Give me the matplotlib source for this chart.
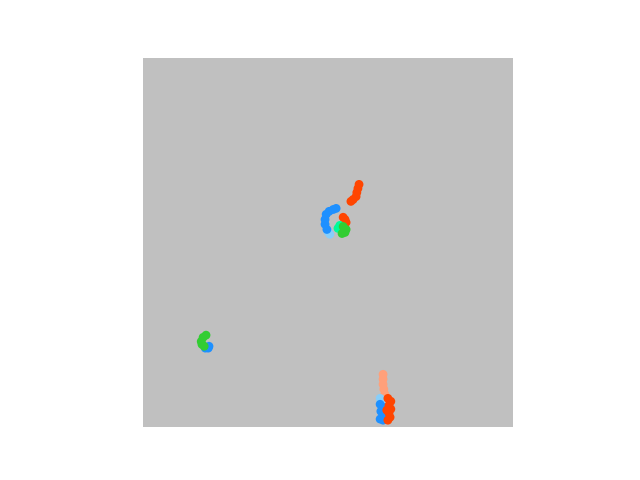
import matplotlib
matplotlib.use("Agg")
import matplotlib.pyplot as plt

# track positions (x, y) in arena units, 0..100
orange_top_x = [58.4, 58.1, 57.8, 57.6, 56.8, 56.2]
orange_top_y = [65.7, 64.6, 63.5, 62.4, 61.6, 61.1]

blue_mid_x = [49.7, 49.2, 49.2, 49.5, 50.3, 51.4, 52.2]
blue_mid_y = [53.5, 54.9, 56.2, 57.6, 58.4, 58.9, 59.2]
lightblue_mid_x = [50.5, 50.0]
lightblue_mid_y = [52.2, 52.9]

red_mid_x = [54.1, 54.6, 54.9]
red_mid_y = [56.8, 56.2, 55.4]

springgreen_mid_x = [52.7, 53.2]
springgreen_mid_y = [53.8, 54.6]
green_mid_x = [54.1, 54.9, 54.6, 53.8]
green_mid_y = [54.3, 53.5, 52.7, 52.4]

green_left_x = [17.0, 16.2, 15.7, 15.9, 16.5]
green_left_y = [24.9, 24.3, 23.2, 22.4, 21.9]
blue_left_x = [16.8, 17.6, 17.8]
blue_left_y = [21.4, 21.4, 21.9]

salmon_bot_x = [64.9, 64.9, 64.9, 65.1, 65.4]
salmon_bot_y = [14.3, 13.0, 11.6, 10.3, 8.9]
red_bot_x = [66.2, 67.0, 66.5, 67.0, 65.9, 66.5, 66.8, 66.2]
red_bot_y = [7.8, 7.0, 5.9, 4.9, 4.6, 3.8, 2.7, 1.9]
lightblue_bot_x = [64.1, 64.3]
lightblue_bot_y = [7.8, 7.3]
blue_bot_x = [64.1, 64.9, 64.3, 64.9, 64.1, 64.9]
blue_bot_y = [6.2, 5.4, 4.3, 3.2, 2.2, 1.9]

fig = plt.figure(figsize=(6.4, 4.8), dpi=100)
ax = fig.add_subplot(111)
ax.set_facecolor("silver")

tracks = [
    (salmon_bot_x, salmon_bot_y, "lightsalmon"),
    (lightblue_bot_x, lightblue_bot_y, "lightskyblue"),
    (blue_bot_x, blue_bot_y, "dodgerblue"),
    (red_bot_x, red_bot_y, "orangered"),
    (lightblue_mid_x, lightblue_mid_y, "lightskyblue"),
    (blue_mid_x, blue_mid_y, "dodgerblue"),
    (red_mid_x, red_mid_y, "orangered"),
    (springgreen_mid_x, springgreen_mid_y, "mediumspringgreen"),
    (green_mid_x, green_mid_y, "limegreen"),
    (orange_top_x, orange_top_y, "orangered"),
    (blue_left_x, blue_left_y, "dodgerblue"),
    (green_left_x, green_left_y, "limegreen"),
]
for xs, ys, c in tracks:
    ax.scatter(xs, ys, s=40, color=c, edgecolors="none")

ax.set_xlim(0, 100)
ax.set_ylim(0, 100)
ax.set_aspect("equal")
ax.set_xticks([])
ax.set_yticks([])
for sp in ax.spines.values():
    sp.set_visible(False)

fig.savefig("out.png", dpi=100)
